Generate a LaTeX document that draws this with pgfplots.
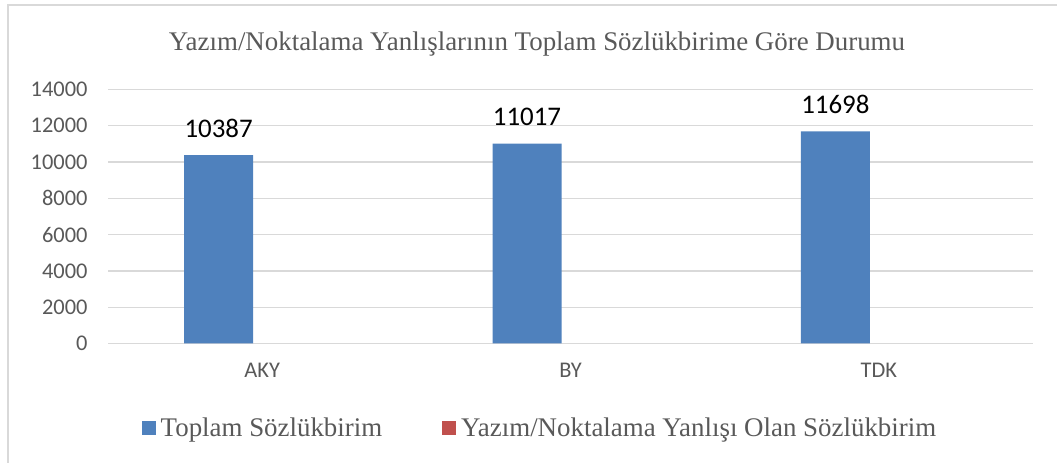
\documentclass[border=0pt]{standalone}
\usepackage{fontspec}
\setmainfont{Liberation Serif}
\newfontfamily\carlito{Carlito}
\usepackage{pgfplots}
\pgfplotsset{compat=1.18}
\definecolor{barblue}{HTML}{4F81BD}
\definecolor{barred}{HTML}{C0504D}
\definecolor{txtgrey}{HTML}{595959}
\definecolor{gridgrey}{HTML}{D9D9D9}
\begin{document}
\begin{tikzpicture}
\useasboundingbox (0bp,0bp) rectangle (1057bp,463bp);
\draw[gridgrey,line width=1.2bp] (8bp,0bp) -- (8bp,458bp) -- (1057bp,458bp);
\node[font=\fontsize{27}{32}\selectfont,text=txtgrey] at (537bp,419bp) {Yazım/Noktalama Yanlışlarının Toplam Sözlükbirime Göre Durumu};
\begin{axis}[
  at={(108bp,119.5bp)}, anchor=south west,
  scale only axis, width=925bp, height=254bp,
  xmin=-0.5, xmax=2.5, ymin=0, ymax=14000,
  xtick={0,1,2}, xticklabels={AKY,BY,TDK},
  ytick={0,2000,...,14000},
  scaled y ticks=false,
  axis line style={draw=none},
  major tick length=0pt,
  ymajorgrids, grid style={gridgrey,line width=1.2bp},
  tick label style={font=\carlito\fontsize{22.5}{26}\selectfont,text=txtgrey},
  xticklabel style={yshift=-16bp},
  yticklabel style={xshift=-17bp},
  /pgf/number format/assume math mode=true,
  /pgf/number format/set thousands separator={},
  ybar=0pt, bar width=69bp,
  legend columns=2,
  legend style={at={(0.467,-0.332)}, anchor=center, draw=none, fill=none,
    font=\fontsize{27}{32}\selectfont, text=txtgrey,
    /tikz/every odd column/.append style={column sep=3bp},
    /tikz/every even column/.append style={column sep=58bp}},
  legend image code/.code={\fill[#1] (0bp,-7bp) rectangle (14bp,7bp);},
]
\addplot[fill=barblue, draw=none, bar shift=-43.5bp,
  nodes near coords, every node near coord/.append style={font=\carlito\fontsize{27}{32}\selectfont, text=black, yshift=14bp},
  nodes near coords={\pgfmathprintnumber[set thousands separator={}]{\pgfplotspointmeta}}]
  coordinates {(0,10387) (1,11017) (2,11698)};
\addlegendentry{Toplam Sözlükbirim}
\addplot[fill=barred, draw=none, fill opacity=0, bar shift=43.5bp, forget plot] coordinates {(0,0) (1,0) (2,0)};
\addlegendimage{fill=barred, draw=none}
\addlegendentry{Yazım/Noktalama Yanlışı Olan Sözlükbirim}
\end{axis}
\end{tikzpicture}
\end{document}
